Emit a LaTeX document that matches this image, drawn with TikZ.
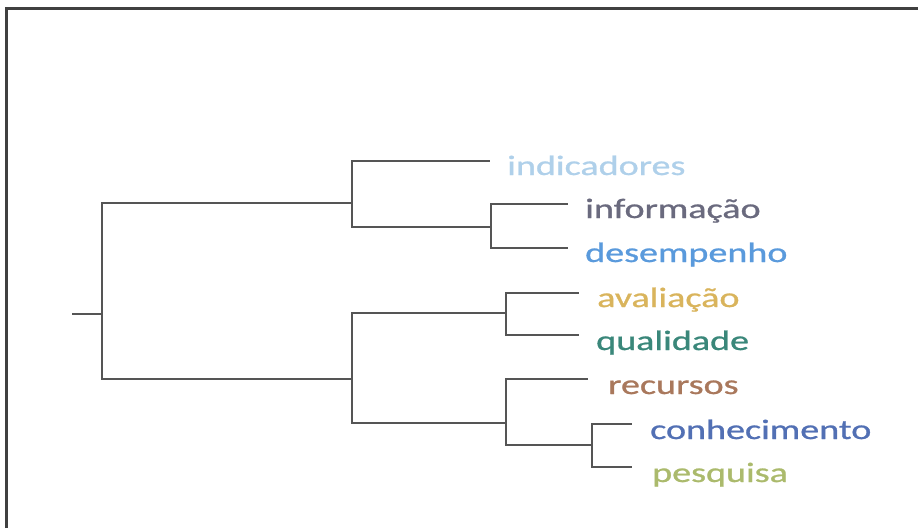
\documentclass[tikz,border=0pt]{standalone}
\usepackage{fontspec}
\setmainfont{Carlito}
\newfontfamily\leaffont{Carlito}[FakeBold=0.8]
\usetikzlibrary{positioning}

\definecolor{cInd}{HTML}{AFD0EA}
\definecolor{cInf}{HTML}{6A6A7E}
\definecolor{cDes}{HTML}{5A9ADC}
\definecolor{cAva}{HTML}{D9B45C}
\definecolor{cQua}{HTML}{3A877A}
\definecolor{cRec}{HTML}{A9785C}
\definecolor{cCon}{HTML}{5270B4}
\definecolor{cPes}{HTML}{ABBA6C}
\definecolor{cLine}{HTML}{555555}

\newcommand{\leaftext}[1]{\scalebox{1.36}[1]{#1}}

\tikzset{
  branch/.style={line width=2.4pt, cLine},
  leaf/.style={anchor=base west, inner sep=0pt, font=\leaffont\fontsize{28}{30}\selectfont}
}

\begin{document}
\begin{tikzpicture}[x=1pt, y=-1pt]

    \useasboundingbox (0,0) rectangle (918,528);

    % frame
    \draw[line width=3pt, black!75] (6,528) -- (6,8) -- (918,8);

    % merge points
    \coordinate (stub) at (72,314);
    \coordinate (root) at (102,314);
    \coordinate (k1)   at (352,203);
    \coordinate (k2)   at (352,379);
    \coordinate (k3)   at (491,227);
    \coordinate (k4)   at (506,313);
    \coordinate (k5)   at (506,423);
    \coordinate (k6)   at (592,445);

    % leaf tips
    \coordinate (tInd) at (490,161);
    \coordinate (tInf) at (568,204);
    \coordinate (tDes) at (568,248);
    \coordinate (tAva) at (579,293);
    \coordinate (tQua) at (579,335);
    \coordinate (tRec) at (588,379);
    \coordinate (tCon) at (632,424);
    \coordinate (tPes) at (632,467);

    % tree
    \draw[branch] (stub) -- (root);
    \draw[branch] (root) |- (k1);
    \draw[branch] (root) |- (k2);
    \draw[branch] (k1) |- (tInd);
    \draw[branch] (k1) |- (k3);
    \draw[branch] (k3) |- (tInf);
    \draw[branch] (k3) |- (tDes);
    \draw[branch] (k2) |- (k4);
    \draw[branch] (k2) |- (k5);
    \draw[branch] (k4) |- (tAva);
    \draw[branch] (k4) |- (tQua);
    \draw[branch] (k5) |- (tRec);
    \draw[branch] (k5) |- (k6);
    \draw[branch] (k6) |- (tCon);
    \draw[branch] (k6) |- (tPes);

    % labels
    \node[leaf, text=cInd] (indicadores)  at (507,175) {\leaftext{indicadores}};
    \node[leaf, text=cInf] (informacao)   at (585,218) {\leaftext{informação}};
    \node[leaf, text=cDes] (desempenho)   at (585,262) {\leaftext{desempenho}};
    \node[leaf, text=cAva] (avaliacao)    at (597,307) {\leaftext{avaliação}};
    \node[leaf, text=cQua] (qualidade)    at (596,350) {\leaftext{qualidade}};
    \node[leaf, text=cRec] (recursos)     at (608,394) {\leaftext{recursos}};
    \node[leaf, text=cCon] (conhecimento) at (650,439) {\leaftext{conhecimento}};
    \node[leaf, text=cPes] (pesquisa)     at (652,482) {\leaftext{pesquisa}};

\end{tikzpicture}
\end{document}
